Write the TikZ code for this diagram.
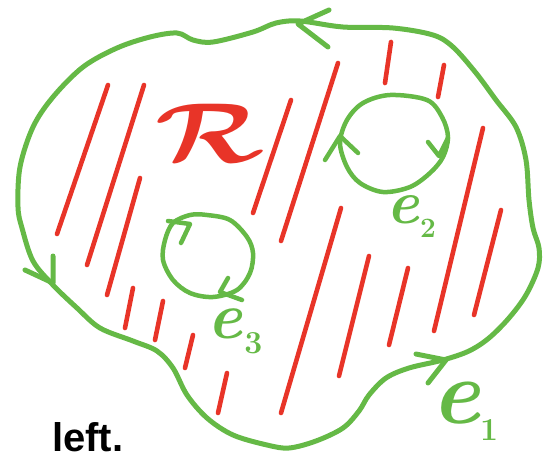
\documentclass[tikz,border=0pt]{standalone}
\usepackage{fontspec}
\setsansfont{Liberation Sans}
\definecolor{mygreen}{RGB}{101,185,70}
\definecolor{myred}{RGB}{232,52,40}
\begin{document}
\begin{tikzpicture}[x=1pt,y=-1pt,
  gline/.style={draw=mygreen, line width=5pt, line cap=round, line join=round},
  thinline/.style={draw=mygreen, line width=4.5pt, line cap=round, line join=round},
  hatch/.style={draw=myred, line width=4.6pt, line cap=round},
  glabel/.style={text=mygreen, inner sep=0pt, anchor=base west}]
\useasboundingbox (0,0) rectangle (552,455);
\clip (0,0) rectangle (552,455);

% outer boundary e1
\draw[gline] plot[smooth cycle, tension=0.55] coordinates {
 (300,21) (276,23) (253,32) (213,42) (193,40) (177,33) (150,37) (117,48)
 (83,67) (53,97) (33,127) (20,167) (18,207) (22,228) (33,261) (53,285)
 (77,308) (100,328) (133,341) (157,351) (173,368) (187,395) (207,418)
 (233,435) (267,445) (289,448) (316,441) (343,428) (359,411) (369,395)
 (386,378) (409,368) (443,360) (469,351) (489,338) (509,318) (526,295)
 (538,268) (539,248) (533,228) (529,200) (526,160) (516,127) (496,100)
 (476,73) (453,47) (433,35) (393,28) (343,27)};
% arrowheads on outer boundary
\draw[gline] (329,10) -- (298,24) -- (328,47);
\draw[gline] (53,256) -- (53,283) -- (25,270);
\draw[gline] (416,354) -- (446,360) -- (428,383);

% hole e2
\draw[thinline] plot[smooth cycle, tension=0.55] coordinates {
 (390,95) (427,100) (442,117) (448,137) (443,157) (430,173) (410,187)
 (383,192) (360,183) (347,167) (340,143) (347,120) (363,103)};
\draw[thinline] (325,160) -- (340,136) -- (358,153);
\draw[thinline] (428,142) -- (439,156) -- (448,138);

% hole e3
\draw[thinline] plot[smooth cycle, tension=0.55] coordinates {
 (207,215) (230,220) (247,237) (253,253) (250,273) (237,290) (213,297)
 (190,293) (173,280) (163,260) (165,240) (173,223) (190,215)};
\draw[thinline] (168,221) -- (190,224) -- (181,243);
\draw[thinline] (228,278) -- (220,292) -- (242,300);

% red hatching
\foreach \a/\b in {
 {(108,85)}/{(57,234)}, {(144,85)}/{(87,265)}, {(140,178)}/{(107,295)},
 {(291,100)}/{(253,213)}, {(338,63)}/{(281,241)}, {(391,42)}/{(385,83)},
 {(444,65)}/{(438,97)}, {(483,128)}/{(434,331)}, {(501,210)}/{(474,315)},
 {(341,208)}/{(281,413)}, {(369,256)}/{(339,376)}, {(408,268)}/{(389,345)},
 {(133,288)}/{(125,328)}, {(163,301)}/{(155,340)}, {(193,335)}/{(185,368)},
 {(227,373)}/{(218,413)}}
 \draw[hatch] \a -- \b;

% labels
\node[text=myred, inner sep=0pt, xscale=11, yscale=8.5, font=\boldmath] (R) at (210,133) {$\mathcal{R}$};
\node[glabel] (e2) at (386,223)
 {\fontsize{62}{62}\selectfont\bfseries\itshape e\hspace{1pt}\raisebox{-14pt}{\upshape\fontsize{28}{28}\selectfont 2}};
\node[glabel] (e3) at (207,338)
 {\fontsize{66}{66}\selectfont\bfseries\itshape e\hspace{2pt}\raisebox{-15pt}{\upshape\fontsize{32}{32}\selectfont 3}};
\node[glabel] (e1) at (431,423)
 {\fontsize{92}{92}\selectfont\bfseries\itshape e\hspace{0pt}\raisebox{-17pt}{\upshape\fontsize{32}{32}\selectfont 1}};
\node[inner sep=0pt, anchor=base west] (left) at (52,451)
 {\fontsize{40}{40}\selectfont\sffamily\bfseries left.};
\end{tikzpicture}
\end{document}
